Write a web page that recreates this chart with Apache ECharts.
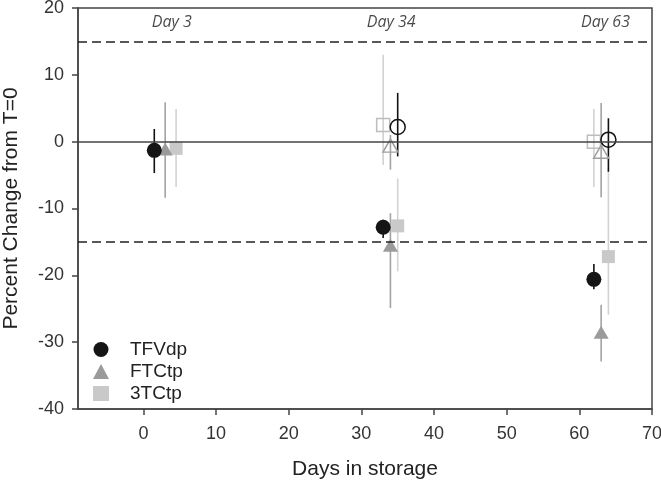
<!DOCTYPE html>
<html><head><meta charset="utf-8">
<script src="https://cdn.jsdelivr.net/npm/echarts@6/dist/echarts.min.js"></script>
<style>html,body{margin:0;padding:0;background:#fff}#c{width:661px;height:485px}</style>
</head><body><div id="c"></div>
<script>
// ---- data ----
const xTicks = [0, 10, 20, 30, 40, 50, 60, 70];
const yTicks = [-40, -30, -20, -10, 0, 10, 20];

// filled symbols
const tfvDays = [1.5, 33, 62];
const tfvMean = [-1.3, -12.8, -20.6];
const tfvLow  = [-4.7, -14.4, -22.1];
const tfvHigh = [1.9, -11.7, -18.3];

const ftcDays = [3, 34, 63];
const ftcMean = [-1.1, -15.5, -28.5];
const ftcLow  = [-8.4, -24.9, -32.9];
const ftcHigh = [5.9, -10.7, -24.4];

const tcDays = [4.5, 35, 64];
const tcMean = [-1.0, -12.6, -17.2];
const tcLow  = [-6.8, -19.4, -25.9];
const tcHigh = [4.9, -5.5, -4.0];

// open symbols
const tfvOpenDays = [35, 64];
const tfvOpenMean = [2.2, 0.3];
const tfvOpenLow  = [-2.2, -4.5];
const tfvOpenHigh = [7.3, 3.5];

const ftcOpenDays = [34, 63];
const ftcOpenMean = [-0.6, -1.5];
const ftcOpenLow  = [-4.2, -8.3];
const ftcOpenHigh = [1.0, 5.8];

const tcOpenDays = [33, 62];
const tcOpenMean = [2.5, 0.0];
const tcOpenLow  = [-3.5, -6.8];
const tcOpenHigh = [13.0, 4.9];

const refLines = [0, 15, -15];
const dayLabels = ['Day 3', 'Day 34', 'Day 63'];
const dayLabelX = [3.9, 34.1, 63.6];
const dayLabelY = [17.8, 17.8, 17.8];

// ---- helpers ----
const pts = (xs, ys) => xs.map((x, i) => [x, ys[i]]);
const bars = (xs, lo, hi) => xs.map((x, i) => [x, lo[i], hi[i]]);
function errSeries(data, color) {
  return {
    type: 'custom', silent: true, z: 2,
    data: data,
    encode: { x: 0, y: [1, 2] },
    renderItem: function (params, api) {
      const a = api.coord([api.value(0), api.value(1)]);
      const b = api.coord([api.value(0), api.value(2)]);
      return { type: 'line', shape: { x1: a[0], y1: a[1], x2: b[0], y2: b[1] },
               style: { stroke: color, lineWidth: 1.6 } };
    }
  };
}
const C_BLACK = '#151515', C_TRI = '#9b9b9b', C_SQ = '#c9c9c9';
const E_BLACK = '#111', E_TRI = '#a3a3a3', E_SQ = '#d2d2d2';
const font = 'Liberation Sans, Arial, sans-serif';

const chart = echarts.init(document.getElementById('c'), null, { renderer: 'canvas' });
chart.setOption({
  animation: false,
  backgroundColor: '#fff',
  grid: { left: 78, right: 9, top: 8, bottom: 76, containLabel: false, outerBoundsMode: 'none',
          show: true, borderColor: '#444', borderWidth: 1.5, backgroundColor: 'transparent' },
  xAxis: {
    type: 'value', min: -9, max: 70,
    name: 'Days in storage', nameLocation: 'middle', nameGap: 50,
    nameTextStyle: { fontFamily: font, fontSize: 21, color: '#222' },
    axisLine: { show: true, onZero: false, lineStyle: { color: '#444', width: 1.5 } },
    axisTick: { show: true, inside: false, length: 6, customValues: xTicks, lineStyle: { color: '#444', width: 1.5 } },
    axisLabel: { customValues: xTicks, fontFamily: font, fontSize: 18, color: '#333', margin: 16 },
    splitLine: { show: false }
  },
  yAxis: {
    type: 'value', min: -40, max: 20, interval: 10,
    name: 'Percent Change from T=0', nameLocation: 'middle', nameGap: 56, nameRotate: 90,
    nameTextStyle: { fontFamily: font, fontSize: 21, color: '#222' },
    axisLine: { show: true, onZero: false, lineStyle: { color: '#444', width: 1.5 } },
    axisTick: { show: true, inside: false, length: 6, lineStyle: { color: '#444', width: 1.5 } },
    axisLabel: { fontFamily: font, fontSize: 18, color: '#333', margin: 14 },
    splitLine: { show: false }
  },
  legend: {
    orient: 'vertical', left: 88, top: 335, itemGap: 3, itemWidth: 16, itemHeight: 15,
    textStyle: { fontFamily: font, fontSize: 19, color: '#222', padding: [0, 0, 0, 16] },
    selectedMode: false,
    data: [
      { name: 'TFVdp', icon: 'circle', itemStyle: { color: C_BLACK, opacity: 1 } },
      { name: 'FTCtp', icon: 'triangle', itemStyle: { color: C_TRI, opacity: 1 } },
      { name: '3TCtp', icon: 'rect', itemStyle: { color: C_SQ, opacity: 1 } }
    ]
  },
  series: [
    {
      type: 'line', data: [], silent: true, z: 1,
      markLine: {
        silent: true, symbol: 'none', label: { show: false }, animation: false,
        data: refLines.map(v => ({ yAxis: v, lineStyle: v === 0
          ? { type: 'solid', color: '#444', width: 1.6 }
          : { type: [9, 5], color: '#222', width: 1.5 } }))
      }
    },
    errSeries(bars(tcOpenDays, tcOpenLow, tcOpenHigh), E_SQ),
    errSeries(bars(ftcOpenDays, ftcOpenLow, ftcOpenHigh), E_TRI),
    errSeries(bars(tcDays, tcLow, tcHigh), E_SQ),
    errSeries(bars(ftcDays, ftcLow, ftcHigh), E_TRI),
    errSeries(bars(tfvDays, tfvLow, tfvHigh), E_BLACK),
    errSeries(bars(tfvOpenDays, tfvOpenLow, tfvOpenHigh), E_BLACK),
    { name: '3TCtp open', type: 'scatter', symbol: 'rect', symbolSize: 13, z: 3,
      data: pts(tcOpenDays, tcOpenMean),
      itemStyle: { color: 'rgba(255,255,255,0)', borderColor: '#bdbdbd', borderWidth: 1.5, opacity: 1 } },
    { name: 'FTCtp open', type: 'scatter', symbol: 'triangle', symbolSize: [15, 13], z: 3,
      data: pts(ftcOpenDays, ftcOpenMean),
      itemStyle: { color: 'rgba(255,255,255,0)', borderColor: '#a0a0a0', borderWidth: 1.5, opacity: 1 } },
    { name: 'TFVdp open', type: 'scatter', symbol: 'circle', symbolSize: 15, z: 3,
      data: pts(tfvOpenDays, tfvOpenMean),
      itemStyle: { color: 'rgba(255,255,255,0)', borderColor: '#111', borderWidth: 1.5, opacity: 1 } },
    { name: '3TCtp', type: 'scatter', symbol: 'rect', symbolSize: 13, z: 4,
      data: pts(tcDays, tcMean), itemStyle: { color: C_SQ, opacity: 1 } },
    { name: 'FTCtp', type: 'scatter', symbol: 'triangle', symbolSize: [15, 13], z: 4,
      data: pts(ftcDays, ftcMean), itemStyle: { color: C_TRI, opacity: 1 } },
    { name: 'TFVdp', type: 'scatter', symbol: 'circle', symbolSize: 15, z: 5,
      data: pts(tfvDays, tfvMean), itemStyle: { color: C_BLACK, opacity: 1 } },
    { name: 'dayLabels', type: 'scatter', symbolSize: 0, silent: true, z: 6,
      data: dayLabels.map((t, i) => ({ name: t, value: [dayLabelX[i], dayLabelY[i]] })),
      label: { show: true, position: 'inside', formatter: p => p.name,
               fontFamily: 'Open Sans, sans-serif', fontStyle: 'italic', fontSize: 16, color: '#1a1a1a' } }
  ]
});
</script>
</body></html>
